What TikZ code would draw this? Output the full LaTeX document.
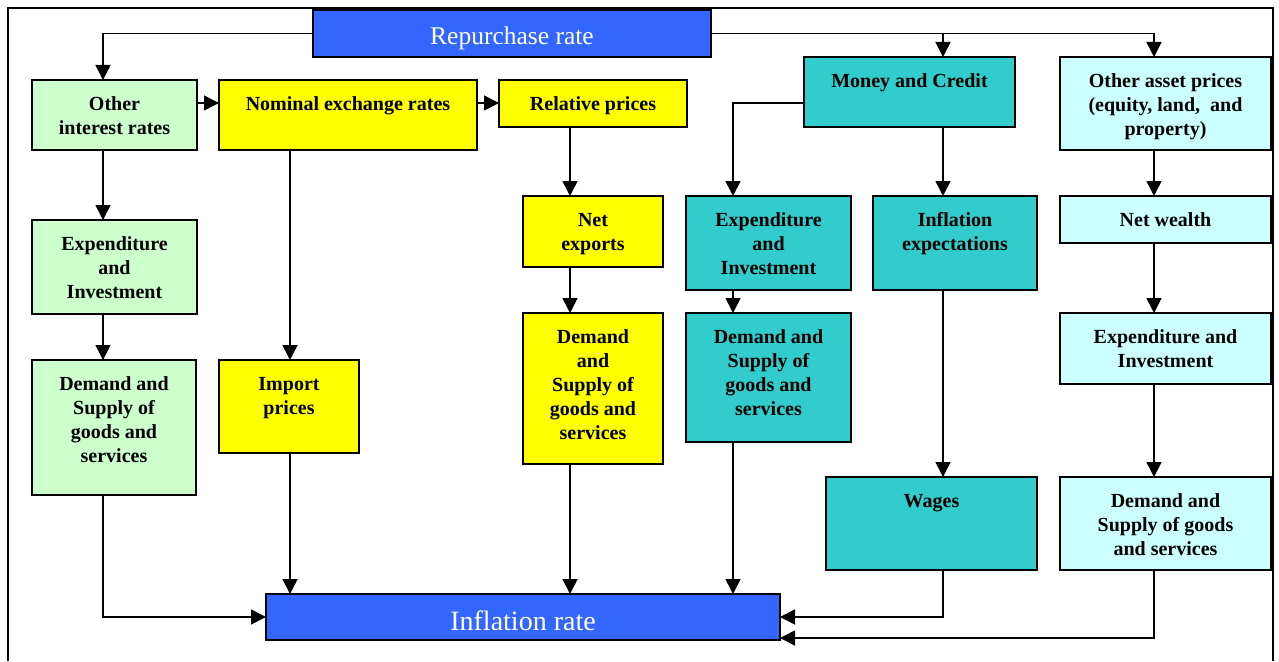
\documentclass[tikz,border=0pt]{standalone}
\usepackage{fontspec}
\setmainfont{Liberation Serif}
\usetikzlibrary{arrows.meta,calc}
\definecolor{cblue}{HTML}{3366FF}
\definecolor{cgreen}{HTML}{CCFFCC}
\definecolor{cyel}{HTML}{FFFF00}
\definecolor{cteal}{HTML}{33CCCC}
\definecolor{clcyan}{HTML}{CCFFFF}
\tikzset{
  box/.style={draw=black,line width=1.8pt,inner sep=0pt,outer sep=0pt},
  arr/.style={line width=1.6pt,-{Triangle[length=15pt,width=15pt]}},
  frameline/.style={line width=1.5pt}
}
\newcommand\bx[7]{%
  \node[box,fill=#6,anchor=north west] (#1) at (#2,#3)
   {\parbox[b][\dimexpr#5pt-#3pt\relax][t]{\dimexpr#4pt-#2pt\relax}{\centering\bfseries\fontsize{20}{24}\selectfont\rule{0pt}{30pt}#7\par}};}
\begin{document}
\begin{tikzpicture}[x=1pt,y=-1pt]
\useasboundingbox (0,0) rectangle (1279,661);
\draw[frameline] (8,661) -- (8,8) -- (1273,8) -- (1273,661);
% columns and rows
\coordinate (cA) at (103,0);
\coordinate (cB) at (290,0);
\coordinate (cC) at (570,0);
\coordinate (cD) at (733,0);
\coordinate (cE) at (943,0);
\coordinate (cF) at (1154,0);
\coordinate (rA) at (0,103);
\coordinate (rB) at (0,638);
% top and bottom
\node[box,fill=cblue,anchor=north west,minimum width=398pt,minimum height=47pt,text=white,font=\fontsize{25.5}{28}\selectfont] (rep) at (313,10) {\raisebox{-11pt}[0pt][0pt]{Repurchase rate}};
\node[box,fill=cblue,anchor=north west,minimum width=514pt,minimum height=46pt,text=white,font=\fontsize{28}{30}\selectfont] (inf) at (266,594) {\raisebox{-13pt}[0pt][0pt]{Inflation rate}};
% row 1
\bx{oir}{32}{80}{197}{150}{cgreen}{Other\\interest rates}
\bx{nom}{219}{80}{477}{150}{cyel}{Nominal exchange rates}
\bx{rel}{499}{80}{687}{127}{cyel}{Relative prices}
\bx{mc}{804}{57}{1015}{127}{cteal}{Money and Credit}
\bx{oap}{1060}{57}{1271}{150}{clcyan}{Other asset prices\\(equity, land,~ and\\property)}
% row 2
\bx{eg}{32}{220}{197}{314}{cgreen}{Expenditure\\and\\Investment}
\bx{nx}{523}{196}{663}{267}{cyel}{Net\\exports}
\bx{et}{686}{196}{851}{290}{cteal}{Expenditure\\and\\Investment}
\bx{ie}{873}{196}{1037}{290}{cteal}{Inflation\\expectations}
\bx{nw}{1060}{196}{1271}{243}{clcyan}{Net wealth}
% row 3
\bx{dsg}{32}{360}{196}{495}{cgreen}{Demand and\\Supply of\\goods and\\services}
\bx{imp}{219}{360}{359}{453}{cyel}{Import\\prices}
\bx{dsy}{523}{313}{663}{464}{cyel}{Demand\\and\\Supply of\\goods and\\services}
\bx{dst}{686}{313}{851}{442}{cteal}{Demand and\\Supply of\\goods and\\services}
\bx{el}{1060}{313}{1271}{384}{clcyan}{Expenditure and\\Investment}
\bx{wag}{826}{477}{1037}{570}{cteal}{Wages}
\bx{dsl}{1060}{477}{1271}{570}{clcyan}{Demand and\\Supply of goods\\and services}
% connectors from repurchase rate
\draw[arr] (rep.west) -| (cA |- oir.north);
\draw[arr] (rep.east) -| (cF |- oap.north);
\draw[arr] (cE |- rep.east) -- (cE |- mc.north);
% row 1 horizontal
\draw[arr] (oir.east |- rA) -- (nom.west |- rA);
\draw[arr] (nom.east |- rA) -- (rel.west |- rA);
\draw[arr] (mc.west |- rA) -| (cD |- et.north);
% verticals
\draw[arr] (cA |- oir.south) -- (cA |- eg.north);
\draw[arr] (cA |- eg.south) -- (cA |- dsg.north);
\draw[arr] (cB |- nom.south) -- (cB |- imp.north);
\draw[arr] (cC |- rel.south) -- (cC |- nx.north);
\draw[arr] (cC |- nx.south) -- (cC |- dsy.north);
\draw[arr] (cD |- et.south) -- (cD |- dst.north);
\draw[arr] (cE |- mc.south) -- (cE |- ie.north);
\draw[arr] (cE |- ie.south) -- (cE |- wag.north);
\draw[arr] (cF |- oap.south) -- (cF |- nw.north);
\draw[arr] (cF |- nw.south) -- (cF |- el.north);
\draw[arr] (cF |- el.south) -- (cF |- dsl.north);
% into inflation rate
\draw[arr] (cA |- dsg.south) |- (inf.west);
\draw[arr] (cB |- imp.south) -- (cB |- inf.north);
\draw[arr] (cC |- dsy.south) -- (cC |- inf.north);
\draw[arr] (cD |- dst.south) -- (cD |- inf.north);
\draw[arr] (cE |- wag.south) |- (inf.east);
\draw[arr] (cF |- dsl.south) |- (inf.east |- rB);
\end{tikzpicture}
\end{document}
